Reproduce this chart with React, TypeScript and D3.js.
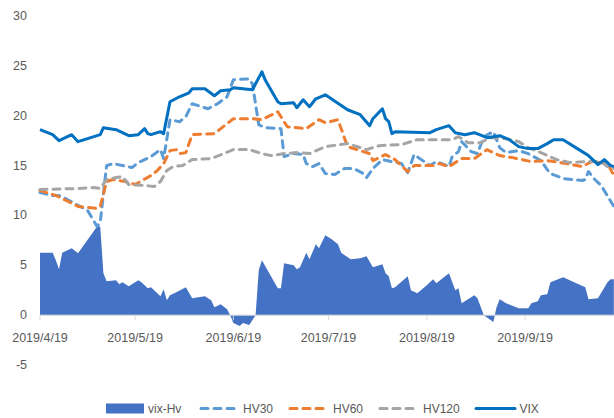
import React from "react";
import * as d3 from "d3";

const yTicks = [30, 25, 20, 15, 10, 5, 0, -5];
const xTickLabels = ["4/19", "5/19", "6/19", "7/19", "8/19", "9/19"];

const vixHv: [string, number][] = [
  ["4/19", 6.25], ["4/23", 6.25], ["4/24", 5.5], ["4/25", 4.6], ["4/26", 6.25], ["4/29", 6.7], ["5/1", 6.2],
  ["5/7", 8.9], ["5/8", 8.9], ["5/9", 4.2], ["5/10", 3.4], ["5/13", 3.5], ["5/14", 3.1], ["5/15", 3.3],
  ["5/17", 2.9], ["5/20", 3.5], ["5/21", 3.3], ["5/23", 2.7], ["5/24", 2.8], ["5/27", 1.9], ["5/28", 2.6],
  ["5/29", 1.5], ["5/30", 2.0], ["6/1", 2.3], ["6/4", 2.8], ["6/6", 1.7], ["6/10", 1.9], ["6/12", 1.5],
  ["6/13", 0.8], ["6/15", 1.1], ["6/17", 0.6], ["6/18", 0], ["6/19", -0.8], ["6/21", -1.1], ["6/22", -0.8],
  ["6/24", -1.0], ["6/26", 0], ["6/27", 4.5], ["6/28", 5.5], ["7/3", 2.7], ["7/4", 2.7], ["7/5", 5.2],
  ["7/8", 5.0], ["7/9", 4.6], ["7/10", 4.8], ["7/12", 6.25], ["7/13", 5.6], ["7/15", 7.1], ["7/16", 6.7],
  ["7/18", 8.0], ["7/20", 7.6], ["7/22", 7.1], ["7/23", 6.25], ["7/26", 5.6], ["7/29", 5.7], ["7/31", 5.9],
  ["8/2", 4.8], ["8/5", 5.1], ["8/6", 4.2], ["8/7", 3.9], ["8/8", 2.7], ["8/9", 2.8], ["8/13", 3.9],
  ["8/14", 2.5], ["8/16", 2.2], ["8/19", 3.0], ["8/21", 3.6], ["8/22", 3.2], ["8/24", 3.7], ["8/26", 4.2],
  ["8/28", 2.5], ["8/29", 2.7], ["8/30", 1.2], ["9/3", 2.0], ["9/4", 1.7], ["9/6", 0], ["9/9", -0.7],
  ["9/10", 0.8], ["9/11", 1.6], ["9/13", 1.2], ["9/17", 0.7], ["9/20", 0.7], ["9/21", 1.2], ["9/23", 1.4],
  ["9/24", 2.0], ["9/26", 2.1], ["9/27", 3.3], ["10/1", 3.8], ["10/8", 2.8], ["10/9", 1.6], ["10/12", 1.7],
  ["10/15", 3.3], ["10/16", 3.6], ["10/17", 3.6],
];

const hv30: [string, number][] = [
  ["4/19", 12.3], ["4/23", 12.0], ["4/25", 12.0], ["4/27", 11.7], ["5/4", 10.5], ["5/7", 8.9], ["5/8", 9.3],
  ["5/10", 15.0], ["5/12", 15.2], ["5/18", 14.8], ["5/20", 15.3], ["5/24", 15.9], ["5/27", 16.6], ["5/28", 15.7],
  ["5/30", 19.6], ["6/2", 19.4], ["6/4", 19.9], ["6/6", 21.2], ["6/11", 20.7], ["6/14", 21.2], ["6/17", 21.9],
  ["6/19", 23.6], ["6/24", 23.7], ["6/25", 23.2], ["6/27", 19.1], ["6/29", 18.8], ["7/4", 18.7], ["7/5", 15.9],
  ["7/8", 16.2], ["7/11", 16.1], ["7/12", 15.2], ["7/14", 14.9], ["7/16", 15.2], ["7/18", 14.2], ["7/21", 14.1],
  ["7/24", 14.7], ["7/27", 14.7], ["7/30", 14.2], ["7/31", 13.8], ["8/2", 14.7], ["8/5", 15.6], ["8/8", 15.4],
  ["8/11", 15.2], ["8/13", 14.3], ["8/15", 16.1], ["8/20", 15.0], ["8/22", 15.4], ["8/26", 14.9], ["8/27", 15.9],
  ["8/29", 16.4], ["8/30", 17.4], ["9/2", 16.4], ["9/4", 16.2], ["9/6", 17.9], ["9/9", 18.4], ["9/11", 16.8],
  ["9/13", 16.3], ["9/17", 16.5], ["9/20", 16.2], ["9/24", 15.5], ["9/26", 14.6], ["9/27", 14.2], ["10/1", 13.7],
  ["10/7", 13.5], ["10/8", 13.6], ["10/9", 14.4], ["10/11", 13.6], ["10/13", 13.0], ["10/17", 10.9],
];

const hv60: [string, number][] = [
  ["4/19", 12.5], ["4/24", 12.0], ["4/26", 11.7], ["5/1", 10.9], ["5/7", 10.7], ["5/8", 10.9], ["5/10", 13.4],
  ["5/12", 13.6], ["5/16", 13.4], ["5/19", 13.1], ["5/24", 14.0], ["5/26", 14.5], ["5/28", 15.2], ["5/30", 16.5],
  ["6/1", 16.6], ["6/2", 16.2], ["6/4", 16.3], ["6/6", 18.1], ["6/13", 18.2], ["6/19", 19.7], ["6/25", 19.7],
  ["6/28", 19.6], ["7/3", 20.4], ["7/6", 18.9], ["7/12", 18.7], ["7/16", 19.6], ["7/18", 19.3], ["7/22", 19.6],
  ["7/23", 18.7], ["7/25", 16.9], ["7/28", 16.6], ["8/1", 16.2], ["8/2", 15.5], ["8/6", 16.1], ["8/9", 15.6],
  ["8/13", 14.4], ["8/15", 15.0], ["8/21", 15.0], ["8/23", 15.2], ["8/26", 14.9], ["8/30", 15.7], ["9/3", 15.7],
  ["9/7", 16.6], ["9/11", 16.0], ["9/15", 15.8], ["9/21", 15.4], ["9/26", 15.5], ["10/2", 15.2], ["10/7", 14.9],
  ["10/10", 15.4], ["10/15", 15.2], ["10/17", 14.0],
];

const hv120: [string, number][] = [
  ["4/19", 12.6], ["5/1", 12.7], ["5/6", 12.8], ["5/8", 12.7], ["5/10", 13.6], ["5/13", 13.8], ["5/15", 13.9],
  ["5/17", 13.1], ["5/22", 13.0], ["5/25", 12.9], ["5/27", 13.4], ["5/29", 14.5], ["5/31", 14.9], ["6/3", 15.0],
  ["6/6", 15.6], ["6/12", 15.7], ["6/19", 16.6], ["6/24", 16.6], ["6/28", 16.2], ["7/1", 16.0], ["7/5", 16.2],
  ["7/9", 16.3], ["7/13", 16.2], ["7/18", 16.9], ["7/25", 17.2], ["7/31", 16.6], ["8/4", 17.0], ["8/11", 17.1],
  ["8/16", 17.6], ["8/27", 17.6], ["8/29", 17.9], ["9/1", 17.3], ["9/5", 17.3], ["9/8", 17.8], ["9/13", 17.7],
  ["9/17", 17.4], ["9/20", 16.8], ["9/24", 16.3], ["9/29", 15.6], ["10/3", 15.3], ["10/8", 15.4], ["10/13", 15.4],
  ["10/15", 14.9], ["10/17", 14.7],
];

const vix: [string, number][] = [
  ["4/19", 18.6], ["4/23", 18.1], ["4/25", 17.5], ["4/29", 18.1], ["5/1", 17.4], ["5/8", 18.1], ["5/9", 18.8],
  ["5/13", 18.6], ["5/15", 18.3], ["5/17", 18.0], ["5/20", 18.1], ["5/22", 18.7], ["5/23", 18.2], ["5/24", 18.1],
  ["5/27", 18.4], ["5/28", 18.2], ["5/30", 21.4], ["6/2", 21.9], ["6/5", 22.3], ["6/6", 22.7], ["6/10", 22.7],
  ["6/13", 22.0], ["6/15", 22.5], ["6/18", 22.6], ["6/19", 22.8], ["6/25", 22.6], ["6/28", 24.4], ["6/29", 23.6],
  ["7/3", 21.4], ["7/4", 21.2], ["7/8", 21.3], ["7/9", 20.8], ["7/11", 21.6], ["7/13", 20.9], ["7/15", 21.7],
  ["7/18", 22.1], ["7/25", 20.6], ["7/29", 20.1], ["8/1", 19.0], ["8/2", 19.7], ["8/5", 20.7], ["8/6", 19.7],
  ["8/7", 19.4], ["8/8", 18.2], ["8/9", 18.4], ["8/20", 18.3], ["8/22", 18.6], ["8/26", 19.0], ["8/28", 18.3],
  ["8/31", 18.1], ["9/3", 18.3], ["9/7", 17.8], ["9/11", 18.0], ["9/14", 17.6], ["9/17", 16.9], ["9/20", 16.7],
  ["9/23", 16.7], ["9/26", 17.2], ["9/28", 17.6], ["10/1", 17.6], ["10/6", 16.6], ["10/9", 16.0], ["10/12", 15.1],
  ["10/14", 15.6], ["10/16", 15.0], ["10/17", 14.9],
];

const parse = d3.timeParse("%Y/%m/%d");
const toDate = (s: string) => parse("2019/" + s) as Date;

const FONT = "'Liberation Sans', Arial, sans-serif";
const TEXT = "#595959";

export default function App() {
  const W = 614;
  const H = 418;
  const x = d3.scaleTime().domain([toDate("4/19"), toDate("10/18")]).range([40, 617]);
  const y = d3.scaleLinear().domain([-5, 30]).range([365, 16]);

  const line = d3
    .line<[string, number]>()
    .x((d) => x(toDate(d[0])))
    .y((d) => y(d[1]));
  const area = d3
    .area<[string, number]>()
    .x((d) => x(toDate(d[0])))
    .y0(y(0))
    .y1((d) => y(d[1]));

  const dashed = [
    { name: "HV30", data: hv30, color: "#5B9BD5" },
    { name: "HV60", data: hv60, color: "#ED7D31" },
    { name: "HV120", data: hv120, color: "#A5A5A5" },
  ];

  const ly = 408.5;
  return (
    <svg
      width={W}
      height={H}
      style={{ position: "absolute", left: 0, top: 0, background: "#fff" }}
      fontFamily={FONT}
    >
      <path d={area(vixHv) || ""} fill="#4472C4" />
      <line x1={40} x2={W} y1={y(0)} y2={y(0)} stroke="#D9D9D9" strokeWidth={1} />
      {xTickLabels.map((t) => {
        const xx = x(toDate(t));
        return (
          <g key={t}>
            <line x1={xx} x2={xx} y1={y(0)} y2={y(0) + 5} stroke="#D9D9D9" strokeWidth={1} />
            <text x={xx} y={338} textAnchor="middle" dominantBaseline="central" fontSize={12.5} fill={TEXT}>
              {"2019/" + t}
            </text>
          </g>
        );
      })}
      {yTicks.map((t) => (
        <text key={t} x={27} y={y(t)} textAnchor="end" dominantBaseline="central" fontSize={12.5} fill={TEXT}>
          {t}
        </text>
      ))}
      {dashed.map((s) => (
        <path
          key={s.name}
          d={line(s.data) || ""}
          fill="none"
          stroke={s.color}
          strokeWidth={3}
          strokeDasharray="7 6"
          strokeLinecap="round"
          strokeLinejoin="round"
        />
      ))}
      <path d={line(vix) || ""} fill="none" stroke="#0070C0" strokeWidth={3} strokeLinejoin="round" />

      {/* legend */}
      <rect x={106} y={403.5} width={38} height={10} fill="#4472C4" />
      <text x={148} y={ly} dominantBaseline="central" fontSize={12} fill={TEXT}>vix-Hv</text>
      {dashed.map((s, i) => {
        const x0 = [201, 290, 380][i];
        const tx = [243, 333, 423][i];
        return (
          <g key={s.name}>
            <line x1={x0} x2={x0 + 33} y1={ly} y2={ly} stroke={s.color} strokeWidth={3} strokeDasharray="7 6" strokeLinecap="round" />
            <text x={tx} y={ly} dominantBaseline="central" fontSize={12} fill={TEXT}>{s.name}</text>
          </g>
        );
      })}
      <line x1={476} x2={515} y1={ly} y2={ly} stroke="#0070C0" strokeWidth={3} strokeLinecap="round" />
      <text x={519.5} y={ly} dominantBaseline="central" fontSize={12} fill={TEXT}>VIX</text>
    </svg>
  );
}
